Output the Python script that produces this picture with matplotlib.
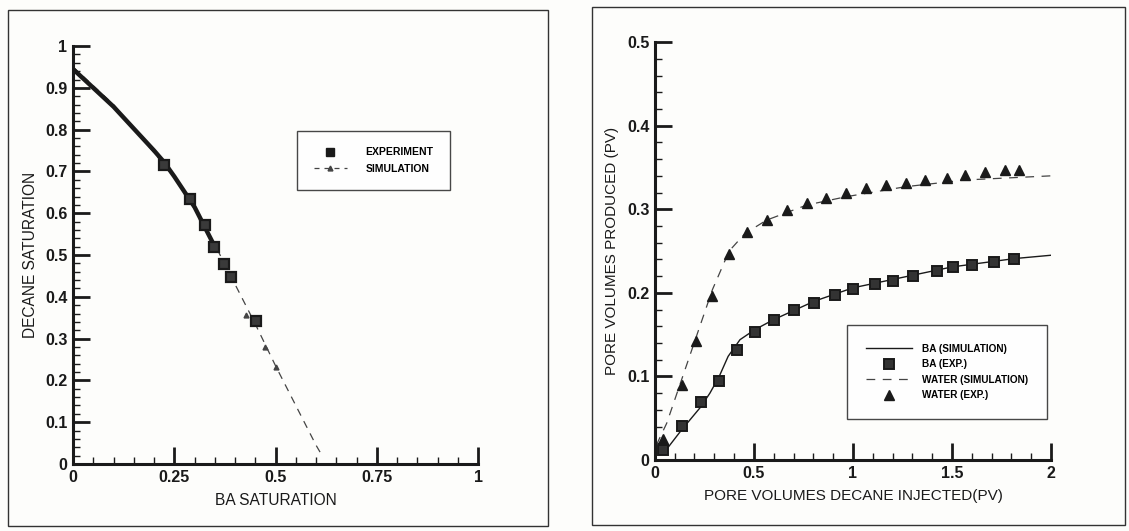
import numpy as np
import matplotlib.pyplot as plt
from matplotlib.patches import Rectangle
from matplotlib.ticker import MultipleLocator, FixedFormatter, FixedLocator

plt.rcParams['font.family'] = ['Liberation Sans', 'DejaVu Sans']

# Left panel: decane vs BA saturation
exp_ba_sat = [0.225, 0.29, 0.327, 0.348, 0.372, 0.389, 0.451]
exp_dec_sat = [0.716, 0.634, 0.572, 0.52, 0.479, 0.447, 0.343]

fit_ba_sat = [0.0, 0.1, 0.2, 0.225, 0.25, 0.3, 0.35]
fit_dec_sat = [0.945, 0.855, 0.75, 0.722, 0.688, 0.615, 0.52]

sim_ba_sat = [0.0, 0.1, 0.2, 0.25, 0.3, 0.35, 0.4, 0.45, 0.5, 0.55, 0.6, 0.615]
sim_dec_sat = [0.95, 0.86, 0.745, 0.685, 0.61, 0.525, 0.43, 0.335, 0.235, 0.14, 0.045, 0.02]
sim_tri_x = [0.428, 0.475, 0.5]
sim_tri_y = [0.357, 0.281, 0.233]

# Right panel: production history
ba_exp_pv = [0.039, 0.135, 0.231, 0.325, 0.414, 0.505, 0.604, 0.704, 0.805, 0.909,
             1.002, 1.111, 1.2, 1.301, 1.426, 1.503, 1.603, 1.714, 1.815]
ba_exp_prod = [0.012, 0.041, 0.069, 0.095, 0.132, 0.153, 0.167, 0.180, 0.188, 0.197,
               0.205, 0.210, 0.214, 0.220, 0.226, 0.231, 0.233, 0.237, 0.240]

wat_exp_pv = [0.039, 0.136, 0.210, 0.291, 0.375, 0.466, 0.564, 0.665, 0.766, 0.862,
              0.965, 1.066, 1.167, 1.266, 1.365, 1.473, 1.564, 1.665, 1.768, 1.840]
wat_exp_prod = [0.025, 0.090, 0.142, 0.196, 0.247, 0.273, 0.287, 0.299, 0.308, 0.314,
                0.319, 0.325, 0.329, 0.332, 0.335, 0.338, 0.341, 0.344, 0.347, 0.347]

ba_sim_pv = [0.06, 0.135, 0.23, 0.278, 0.325, 0.37, 0.43, 0.505, 0.6, 0.805, 1.0, 1.3, 1.5, 1.815, 2.0]
ba_sim_prod = [0.013, 0.036, 0.063, 0.08, 0.1, 0.124, 0.144, 0.156, 0.168, 0.19, 0.206, 0.221, 0.231, 0.241, 0.245]

wat_sim_pv = [0.008, 0.06, 0.135, 0.21, 0.291, 0.375, 0.455, 0.564, 0.766, 0.965, 1.266, 1.564, 2.0]
wat_sim_prod = [0.018, 0.044, 0.096, 0.148, 0.204, 0.25, 0.271, 0.287, 0.305, 0.315, 0.327, 0.335, 0.340]

ink = '#1a1a1a'
fig = plt.figure(figsize=(11.29, 5.31), dpi=100, facecolor='#fdfdfb')

# panel frames
fig.patches.append(Rectangle((8 / 1129, 1 - 526 / 531), 540 / 1129, 516 / 531,
                             transform=fig.transFigure, fill=False, ec='#333333', lw=1.0))
fig.patches.append(Rectangle((592 / 1129, 1 - 525 / 531), 533 / 1129, 518 / 531,
                             transform=fig.transFigure, fill=False, ec='#333333', lw=1.0))


def style_axes(ax):
    ax.set_facecolor('none')
    for s in ['top', 'right']:
        ax.spines[s].set_visible(False)
    for s in ['left', 'bottom']:
        ax.spines[s].set_linewidth(2.2)
        ax.spines[s].set_color(ink)
    ax.tick_params(which='major', direction='in', length=12, width=2.0, color=ink,
                   labelsize=11.5, labelcolor=ink, pad=4)
    ax.tick_params(which='minor', direction='in', length=5, width=1.0, color=ink)
    for lab in ax.get_xticklabels() + ax.get_yticklabels():
        lab.set_fontweight('bold')


ax1 = fig.add_axes([0.0647, 0.1262, 0.3587, 0.787])
ax1.plot(fit_ba_sat, fit_dec_sat, color=ink, lw=3.2, solid_capstyle='round', zorder=3)
ax1.plot(sim_ba_sat, sim_dec_sat, color='#444444', lw=0.9, dashes=(6, 5), zorder=2)
ax1.plot(sim_tri_x, sim_tri_y, ls='none', marker='^', ms=3.5, color='#444444', zorder=2)
ax1.plot(exp_ba_sat, exp_dec_sat, ls='none', marker='s', ms=6.5, mfc='#3a3a3a', mec=ink,
         mew=1.6, zorder=4)
ax1.plot([], [], ls='none', marker='s', ms=6, color=ink, label='EXPERIMENT')
ax1.plot([], [], color='#444444', lw=0.9, dashes=(4, 4), marker='^', ms=3.5, label='SIMULATION')
ax1.set_xlim(0, 1)
ax1.set_ylim(0, 1)
ax1.xaxis.set_major_locator(FixedLocator([0, 0.25, 0.5, 0.75, 1]))
ax1.xaxis.set_major_formatter(FixedFormatter(['0', '0.25', '0.5', '0.75', '1']))
ax1.xaxis.set_minor_locator(MultipleLocator(0.05))
ax1.yaxis.set_major_locator(FixedLocator(np.arange(11) / 10))
ax1.yaxis.set_major_formatter(FixedFormatter(['0', '0.1', '0.2', '0.3', '0.4', '0.5',
                                              '0.6', '0.7', '0.8', '0.9', '1']))
ax1.yaxis.set_minor_locator(MultipleLocator(0.02))
style_axes(ax1)
ax1.set_xlabel('BA SATURATION', fontsize=11.2, color=ink, labelpad=6)
ax1.set_ylabel('DECANE SATURATION', fontsize=11.2, color=ink, labelpad=5)
leg1 = ax1.legend(loc='upper left', bbox_to_anchor=(0.54, 0.81),
                  frameon=True, fancybox=False, edgecolor=ink, borderpad=1.6,
                  handlelength=3.2, handletextpad=1.8, labelspacing=0.6,
                  prop={'weight': 'bold', 'size': 7.5})
leg1.get_frame().set_linewidth(1.0)
leg1.get_frame().set_facecolor('white')

ax2 = fig.add_axes([0.580, 0.1337, 0.351, 0.787])
ax2.plot(ba_sim_pv, ba_sim_prod, color=ink, lw=1.0, label='BA (SIMULATION)')
ax2.plot(ba_exp_pv, ba_exp_prod, ls='none', marker='s', ms=6.5, mfc='#333333',
         mec=ink, mew=1.4, label='BA (EXP.)')
ax2.plot(wat_sim_pv, wat_sim_prod, color='#444444', lw=0.9, dashes=(7, 6),
         label='WATER (SIMULATION)')
ax2.plot(wat_exp_pv, wat_exp_prod, ls='none', marker='^', ms=6.5, color=ink,
         label='WATER (EXP.)')
ax2.set_xlim(0, 2)
ax2.set_ylim(0, 0.5)
ax2.xaxis.set_major_locator(FixedLocator([0, 0.5, 1, 1.5, 2]))
ax2.xaxis.set_major_formatter(FixedFormatter(['0', '0.5', '1', '1.5', '2']))
ax2.xaxis.set_minor_locator(MultipleLocator(0.1))
ax2.yaxis.set_major_locator(FixedLocator([0, 0.1, 0.2, 0.3, 0.4, 0.5]))
ax2.yaxis.set_major_formatter(FixedFormatter(['0', '0.1', '0.2', '0.3', '0.4', '0.5']))
ax2.yaxis.set_minor_locator(MultipleLocator(0.02))
style_axes(ax2)
ax2.set_xlabel('PORE VOLUMES DECANE INJECTED(PV)', fontsize=11, color=ink, labelpad=6)
ax2.set_ylabel('PORE VOLUMES PRODUCED (PV)', fontsize=11, color=ink, labelpad=6)
leg2 = ax2.legend(loc='lower left', bbox_to_anchor=(0.472, 0.085),
                  frameon=True, fancybox=False, edgecolor=ink, borderpad=1.9,
                  handlelength=4.6, handletextpad=1.0, labelspacing=0.55,
                  prop={'weight': 'bold', 'size': 7.2})
leg2.get_frame().set_linewidth(1.0)
leg2.get_frame().set_facecolor('white')

fig.savefig('out.png', dpi=100, facecolor=fig.get_facecolor())
